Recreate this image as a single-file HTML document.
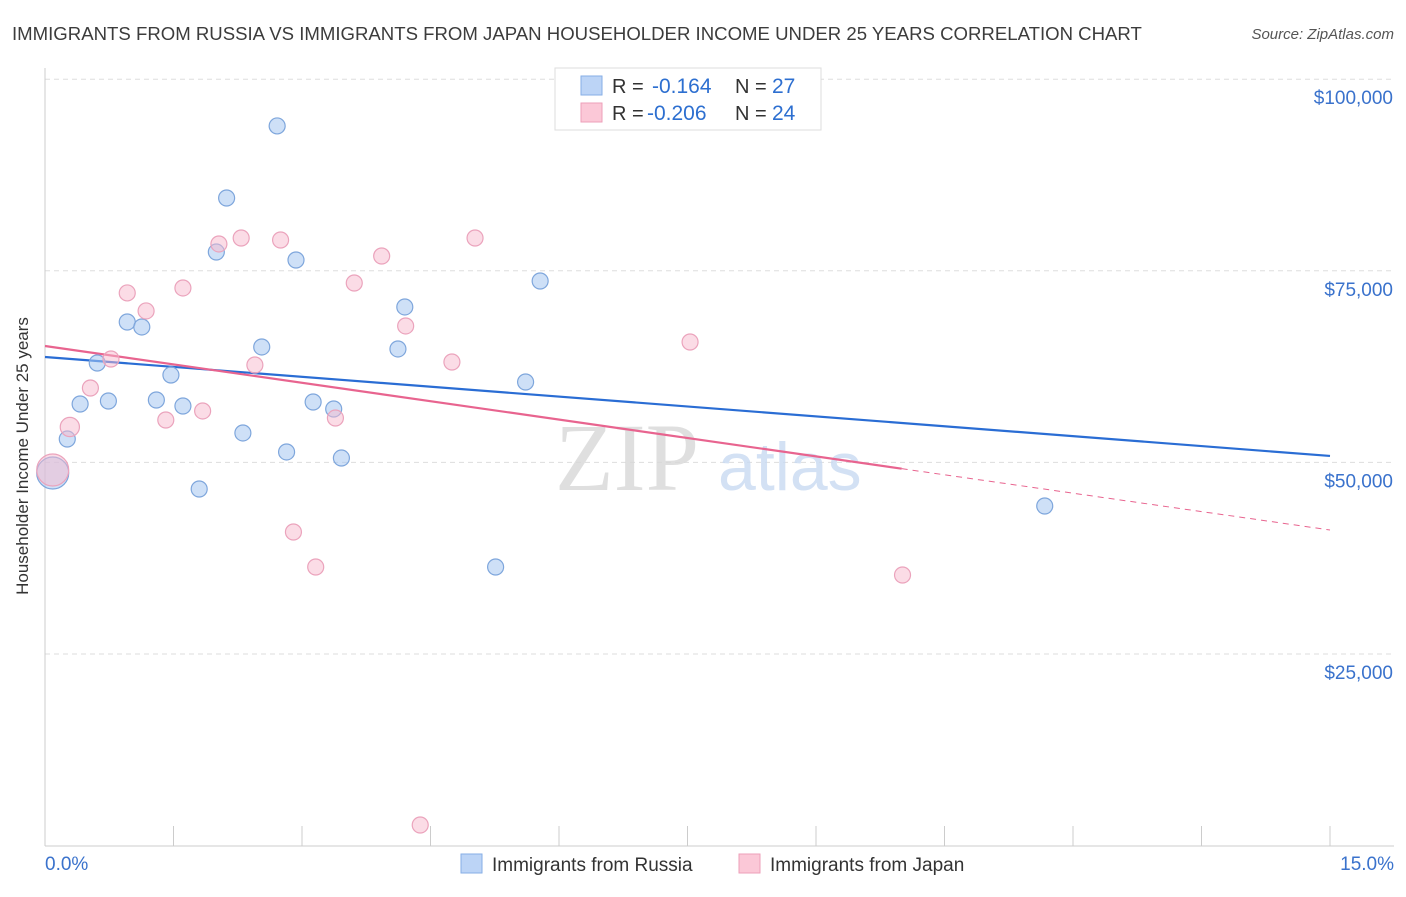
<!DOCTYPE html>
<html><head><meta charset="utf-8"><style>
body{margin:0;background:#fff;font-family:"Liberation Sans",sans-serif;}
</style></head><body>
<svg id="chart" width="1406" height="892" xmlns="http://www.w3.org/2000/svg" font-family="Liberation Sans, sans-serif">
<text x="12" y="40" font-size="18.6" fill="#3c3c3c">IMMIGRANTS FROM RUSSIA VS IMMIGRANTS FROM JAPAN HOUSEHOLDER INCOME UNDER 25 YEARS CORRELATION CHART</text>
<text x="1394" y="39" font-size="15" font-style="italic" fill="#555" text-anchor="end">Source: ZipAtlas.com</text>
<g id="grid"></g>
<g><text x="555" y="490" font-size="96" font-family="Liberation Serif, serif" fill="#d8d8d8" opacity="0.8">ZIP</text><text x="718" y="490" font-size="68" fill="#c9daf2" opacity="0.8">atlas</text></g>
<g id="axes"></g>
<g id="lines"></g>
<g id="points"></g>
<text x="28" y="456" font-size="17" fill="#333" text-anchor="middle" transform="rotate(-90 28 456)">Householder Income Under 25 years</text>
<g>
<rect x="555" y="68" width="266" height="62" fill="#fff" stroke="#ddd"/>
<rect x="581" y="76" width="21" height="19" fill="#bcd4f6" stroke="#86aee6"/>
<rect x="581" y="103" width="21" height="19" fill="#fbc8d7" stroke="#ee9fb9"/>
<text x="612" y="93" font-size="20" fill="#333">R = </text><text x="652" y="93" font-size="21" fill="#2d6fd0">-0.164</text>
<text x="735" y="93" font-size="20" fill="#333">N = </text><text x="772" y="93" font-size="21" fill="#2d6fd0">27</text>
<text x="612" y="120" font-size="20" fill="#333">R = </text><text x="647" y="120" font-size="21" fill="#2d6fd0">-0.206</text>
<text x="735" y="120" font-size="20" fill="#333">N = </text><text x="772" y="120" font-size="21" fill="#2d6fd0">24</text>
</g>
<g>
<rect x="461" y="854" width="21" height="19" fill="#bcd4f6" stroke="#86aee6"/>
<text x="492" y="871" font-size="19" fill="#333">Immigrants from Russia</text>
<rect x="739" y="854" width="21" height="19" fill="#fbc8d7" stroke="#ee9fb9"/>
<text x="770" y="871" font-size="19" fill="#333">Immigrants from Japan</text>
</g>
</svg>
<script>
const russiaX=[0.09,0.26,0.41,0.61,0.74,0.96,1.13,1.30,1.47,1.61,1.80,2.00,2.12,2.31,2.53,2.71,2.82,2.93,3.13,3.37,3.46,4.12,4.20,5.26,5.61,5.78,11.67];
const russiaY=[48620,53050,57620,62970,58010,68320,67670,58140,61400,57360,46530,77450,84500,53840,65060,93900,51360,76410,57880,56970,50570,64800,70280,36350,60490,73670,44310];
const russiaSize=[2,1,1,1,1,1,1,1,1,1,1,1,1,1,1,1,1,1,1,1,1,1,1,1,1,1,1];
const japanX=[0.09,0.29,0.53,0.77,0.96,1.18,1.41,1.61,1.84,2.03,2.29,2.45,2.75,2.90,3.16,3.39,3.61,3.93,4.21,4.38,4.75,5.02,7.53,10.01];
const japanY=[49010,54620,59710,63490,72110,69760,55530,72760,56710,78500,79280,62710,79020,40920,36350,55790,73410,76930,67800,2690,63100,79280,65710,35310];
const japanSize=[2,1.2,1,1,1,1,1,1,1,1,1,1,1,1,1,1,1,1,1,1,1,1,1,1];
const russiaTrend=[63750,50840];
const japanTrend=[65190,41180];
const japanSolidEnd=10.0;
const yTicks=[25000,50000,75000,100000];
const yTickLabels=["$25,000","$50,000","$75,000","$100,000"];
const xTicks=[0,1.5,3,4.5,6,7.5,9,10.5,12,13.5,15];
const xEndLabels=["0.0%","15.0%"];

const NS="http://www.w3.org/2000/svg";
const X=v=>45+v*(1285/15);
const Y=v=>845.6-v*(191.6/25000);
function mk(parent,tag,attrs){const e=document.createElementNS(NS,tag);for(const k in attrs)e.setAttribute(k,attrs[k]);document.getElementById(parent).appendChild(e);return e;}
yTicks.forEach((t,i)=>{
  const l=mk('grid','line',{x1:45,x2:1394,y1:Y(t),y2:Y(t),stroke:'#ddd','stroke-dasharray':'5,4'});
  
  
  const tx=mk('axes','text',{x:1393,y:Y(t)+25,'font-size':19,fill:'#3a72cc','text-anchor':'end'});
  tx.textContent=yTickLabels[i];
  
  
});
{const l=mk('axes','line',{x1:45,x2:45,y1:68,y2:846,stroke:'#ccc'});}
{const l=mk('axes','line',{x1:45,x2:1394,y1:846,y2:846,stroke:'#ccc'});}
xTicks.forEach(t=>{const l=mk('axes','line',{x1:X(t),x2:X(t),y1:826,y2:846,stroke:'#ccc'});});
{const t=mk('axes','text',{x:45,y:870,'font-size':19,fill:'#3a72cc'});t.textContent=xEndLabels[0];}
{const t=mk('axes','text',{x:1394,y:870,'font-size':19,fill:'#3a72cc','text-anchor':'end'});t.textContent=xEndLabels[1];}
russiaX.forEach((x,i)=>{const c=mk('points','circle',{cx:X(x),cy:Y(russiaY[i]),r:8*russiaSize[i],fill:'rgba(165,198,240,0.55)',stroke:'#7ea6dc','stroke-width':1.2});});
japanX.forEach((x,i)=>{const c=mk('points','circle',{cx:X(x),cy:Y(japanY[i]),r:8*japanSize[i],fill:'rgba(248,185,205,0.5)',stroke:'#eba3bc','stroke-width':1.2});});
const jAt=x=>japanTrend[0]+(japanTrend[1]-japanTrend[0])*x/15;
{const l=mk('lines','line',{x1:X(0),y1:Y(russiaTrend[0]),x2:X(15),y2:Y(russiaTrend[1]),stroke:'#2a6dd4','stroke-width':2.2});}
{const l=mk('lines','line',{x1:X(0),y1:Y(jAt(0)),x2:X(japanSolidEnd),y2:Y(jAt(japanSolidEnd)),stroke:'#e8648f','stroke-width':2.2});}
{const l=mk('lines','line',{x1:X(japanSolidEnd),y1:Y(jAt(japanSolidEnd)),x2:X(15),y2:Y(jAt(15)),stroke:'#e8648f','stroke-width':1,'stroke-dasharray':'6,5'});}
</script>
</body></html>
